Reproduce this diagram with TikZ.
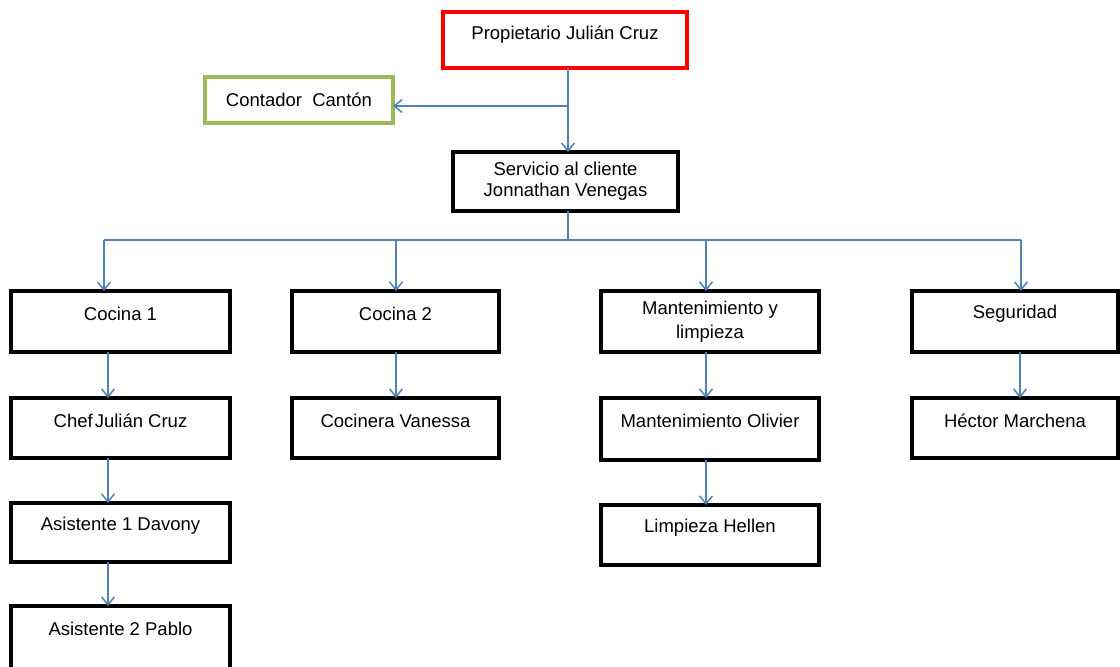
\documentclass[tikz,border=0pt]{standalone}
\usepackage{fontspec}
\setmainfont{Liberation Sans}
\usetikzlibrary{arrows.meta,calc}
\definecolor{conn}{RGB}{79,129,189}
\definecolor{boxred}{RGB}{255,0,0}
\definecolor{boxgreen}{RGB}{155,187,89}
\tikzset{
  orgbox/.style={draw=black, line width=3.2pt, rectangle, inner sep=0pt, outer sep=0pt},
  txt/.style={font=\fontsize{18.5}{21}\selectfont, align=center, inner sep=0pt},
  link/.style={draw=conn, line width=1.5pt},
  arr/.style={link, -{Straight Barb[length=8pt,width=13pt,line width=1.5pt]}}
}
\newcommand\orgnode[7][black]{%
  \node[orgbox, draw=#1, minimum width={(#5-#3)*1pt}, minimum height={(#6-#4)*1pt}] (#2) at ({(#3+#5)/2},{(#4+#6)/2}) {};
  \node[txt] (#2-t) at ($(#2.north)+(0,22.5)$) {#7};
}
\begin{document}
\begin{tikzpicture}[x=1pt,y=-1pt]
\useasboundingbox (0,0) rectangle (1120,667);
\orgnode[boxred]{prop}{443}{12}{687}{68}{Propietario Julián Cruz}
\orgnode[boxgreen]{cont}{205}{77}{393}{123}{Contador\ \ Cantón}
\node[orgbox, minimum width=225pt, minimum height=59pt] (serv) at (565.5,181.5) {};
\node[txt] (serv-t) at (serv.center) {Servicio al cliente\\Jonnathan Venegas};
\orgnode{c1}{11}{291}{230}{352}{Cocina 1}
\orgnode{c2}{292}{291}{499}{352}{Cocina 2}
\node[orgbox, minimum width=218pt, minimum height=61pt] (mant) at (710,321.5) {};
\node[txt, font=\fontsize{18.5}{24}\selectfont] (mant-t) at ($(mant.north)+(0,31)$) {Mantenimiento y\\limpieza};
\orgnode{seg}{912}{291}{1118}{352}{Seguridad}
\orgnode{chef}{11}{398}{230}{458}{Chef\hspace{2pt}Julián Cruz}
\orgnode{coc}{292}{398}{499}{458}{Cocinera Vanessa}
\orgnode{molv}{601}{398}{819}{460}{Mantenimiento Olivier}
\orgnode{hect}{912}{398}{1118}{458}{Héctor Marchena}
\orgnode{ast1}{11}{503}{230}{562}{Asistente 1 Davony}
\orgnode{lh}{601}{505}{819}{565}{Limpieza Hellen}
\orgnode{ast2}{11}{606}{230}{669}{Asistente 2 Pablo}
% connectors
\coordinate (br1) at (568,106);
\coordinate (br2) at (568,240);
\coordinate (h1) at (104,240);
\coordinate (h2) at (396,240);
\coordinate (h3) at (706,240);
\coordinate (h4) at (1021,240);
\draw[arr] (prop.south -| br1) -- (serv.north -| br1);
\draw[arr] (br1) -- (cont.east |- br1);
\draw[link] (serv.south -| br2) -- (br2);
\draw[link] (h1) -- (h4);
\draw[arr] (h1) -- (c1.north -| h1);
\draw[arr] (h2) -- (c2.north -| h2);
\draw[arr] (h3) -- (mant.north -| h3);
\draw[arr] (h4) -- (seg.north -| h4);
\coordinate (v1) at (108,0);
\coordinate (v2) at (396,0);
\coordinate (v3) at (706,0);
\coordinate (v4) at (1020,0);
\draw[arr] (c1.south -| v1) -- (chef.north -| v1);
\draw[arr] (chef.south -| v1) -- (ast1.north -| v1);
\draw[arr] (ast1.south -| v1) -- (ast2.north -| v1);
\draw[arr] (c2.south -| v2) -- (coc.north -| v2);
\draw[arr] (mant.south -| v3) -- (molv.north -| v3);
\draw[arr] (molv.south -| v3) -- (lh.north -| v3);
\draw[arr] (seg.south -| v4) -- (hect.north -| v4);
\end{tikzpicture}
\end{document}
